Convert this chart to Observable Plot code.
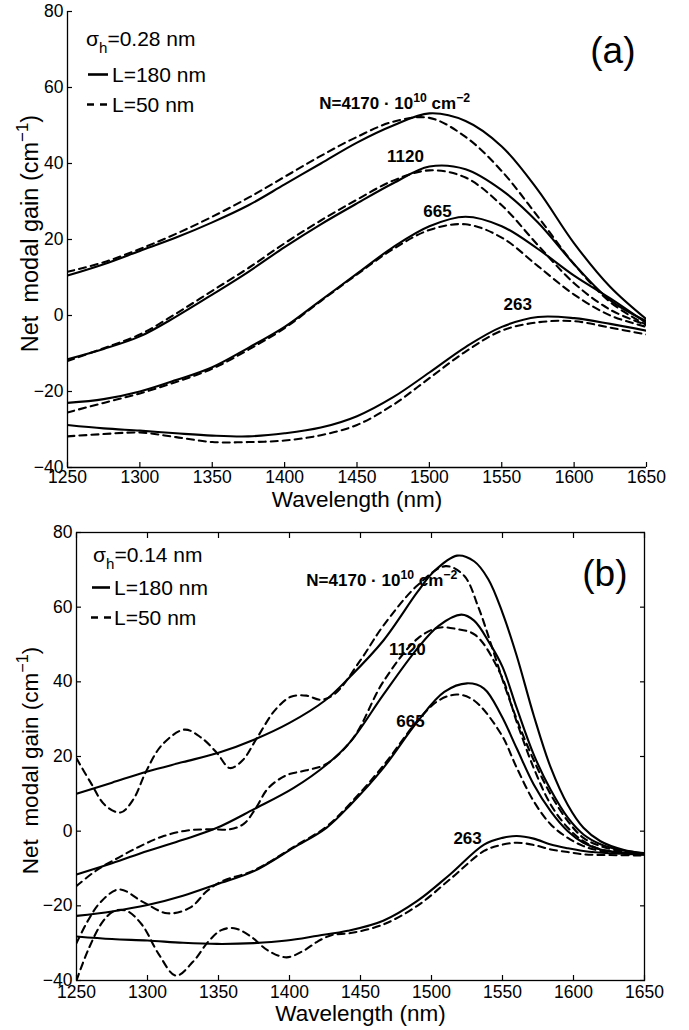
<!DOCTYPE html>
<html><head><meta charset="utf-8">
<script src="https://cdn.jsdelivr.net/npm/d3@7"></script>
<script src="https://cdn.jsdelivr.net/npm/@observablehq/plot@0.6"></script>
<style>
html,body{margin:0;padding:0;background:#fff}
#chart svg{display:block}
</style>
</head><body><div id="chart"></div>
<script>
const FONT = "'Liberation Sans', Arial, Helvetica, sans-serif";
const X_TICKS = [1250,1300,1350,1400,1450,1500,1550,1600,1650];
const Y_TICKS = [-40,-20,0,20,40,60,80];

// ---- Panel (a): sigma_h = 0.28 nm ----
const WL_A = [1250,1275,1300,1325,1350,1375,1400,1425,1450,1475,1500,1525,1550,1575,1600,1625,1650];
const A_4170_S = [10.5,13.5,17,20.5,24.5,29,34.5,40,45.5,50,53.2,51.2,44.5,33,19,7.5,-1];
const A_4170_D = [11.5,14,17.5,21.5,26,31,36.5,42,47,51,52,47,38,26,13.5,3.5,-2.5];
const A_1120_S = [-11.5,-8.8,-5.5,-0.3,5.5,11.5,18,24,29.5,34.8,39.2,38.5,33,24.5,13.5,4,-1.5];
const A_1120_D = [-12,-8.6,-5,0.5,6.5,12.5,19,25,30.5,35.5,38.2,36.3,29,18.5,8.5,1.5,-2.5];
const A_665_S = [-23,-22,-20,-17,-13.6,-8.5,-3,4,11,18,23.5,26,23.5,17.5,10.5,4.5,-2];
const A_665_D = [-25.5,-23,-20.5,-17.5,-14,-9,-3.3,3.8,10.8,17.5,22.5,24,20.5,13,5.5,0,-3];
const A_263_S = [-28.8,-29.7,-30.3,-31,-31.6,-31.8,-31,-29.5,-26.5,-21.5,-15,-8.3,-3,-0.4,-0.7,-2.2,-4];
const A_263_D = [-31.8,-31.2,-30.8,-32,-33.3,-33.3,-32.9,-31.5,-28.8,-23.5,-16.5,-9.5,-4,-1.8,-1.5,-3.2,-5];

// ---- Panel (b): sigma_h = 0.14 nm ----
const B_4170_S_WL = [1250,1275,1300,1325,1350,1375,1400,1425,1443,1466,1490,1501,1518,1530,1540,1550,1560,1572,1584,1596,1607,1619,1635,1650];
const B_4170_S = [10,13,16,18.5,21,24.5,29,35,41.5,51,64,69.3,73.8,72.3,67.5,58.5,47,31,17,7,0.9,-2.7,-5,-6];
const B_4170_D_WL = [1250,1260,1270,1281,1290,1299,1310,1326,1338,1349,1358,1367,1377,1390,1401,1412,1422,1432,1450,1466,1490,1510,1523,1533,1542,1551,1560,1572,1584,1596,1607,1619,1635,1650];
const B_4170_D = [19.5,13,7,5,8.5,16,23,27.2,25,20.9,16.9,19,24.9,32.5,36,36.3,35.2,36.8,45.8,55,65.8,71,68.4,60,50,39.5,30,19,9.8,2.7,-1.8,-4,-5.5,-6.2];
const B_1120_S_WL = [1250,1275,1300,1325,1349,1375,1403,1426,1443,1466,1490,1505,1521,1530,1541,1550,1560,1572,1584,1596,1607,1619,1635,1650];
const B_1120_S = [-11.6,-8.6,-5.3,-2.3,0.9,5.9,11.6,17.8,24,36.5,48.9,55,58,56.4,50.3,44,33,20.5,11,3.6,-0.9,-3.5,-5.2,-5.9];
const B_1120_D_WL = [1250,1264,1280,1295,1310,1328,1345,1358,1368,1376,1385,1398,1412,1426,1445,1466,1490,1505,1517,1531,1549,1560,1572,1584,1596,1607,1619,1635,1650];
const B_1120_D = [-14.7,-10.5,-7,-4,-1.5,0.2,0.5,0.5,2,6,11.5,15,16.3,18,25,40,51.5,54.5,54.2,52.5,41.8,29.3,16.9,7.1,0.9,-2.7,-4.9,-5.8,-6.2];
const B_665_S_WL = [1250,1275,1300,1325,1349,1375,1403,1426,1443,1466,1490,1509,1525,1537,1549,1560,1572,1584,1596,1607,1619,1635,1650];
const B_665_S = [-22.7,-21.5,-19.8,-17.3,-14.2,-10.7,-4.4,0.9,7.1,16.9,29.3,37.3,39.6,38.2,31.1,22.2,12.5,5.3,0,-3.1,-4.9,-5.8,-6.2];
const B_665_D_WL = [1250,1258,1267,1280,1297,1314,1330,1342,1352,1375,1403,1426,1443,1466,1490,1505,1518,1530,1549,1560,1572,1584,1596,1607,1619,1635,1650];
const B_665_D = [-30,-24,-19,-15.6,-19,-22,-20.5,-16,-13.5,-10.5,-4.2,1.2,7.5,17.5,29.5,35,36.6,35,26,17,8,1.8,-1.8,-4,-5.3,-6,-6.3];
const B_263_S_WL = [1250,1275,1300,1325,1349,1375,1398,1420,1441,1466,1490,1513,1537,1550,1560,1572,1584,1596,1607,1625,1650];
const B_263_S = [-28.2,-28.9,-29.3,-29.9,-30.2,-30,-29.3,-28,-26.7,-24,-18.7,-11.6,-3.6,-1.8,-1.3,-2,-3.6,-4.6,-5.3,-5.9,-6.2];
const B_263_D_WL = [1250,1258,1268,1276,1285,1296,1308,1320,1332,1343,1352,1361,1372,1385,1398,1410,1420,1430,1443,1466,1490,1513,1537,1548,1560,1572,1584,1596,1607,1625,1650];
const B_263_D = [-40,-32,-24.5,-21.5,-21.3,-25,-33,-38.7,-35,-29.5,-26.5,-26,-28,-32,-33.8,-32,-29.5,-27.8,-27.3,-25,-20,-12.9,-5.3,-3.8,-3.1,-3.7,-4.9,-5.6,-6.2,-6.4,-6.5];

// curve labels (carrier density) and their anchor points in data space
const LABELS = ["N=4170 · 10^{10} cm^{−2}", "1120", "665", "263"];
const LABEL_A_WL = [1476, 1483.5, 1505.6, 1561];
const LABEL_A_G = [55.8, 41.8, 27.4, 2.9];
const LABEL_B_WL = [1465, 1483, 1485.2, 1525.4];
const LABEL_B_G = [67.1, 48.7, 29.4, -2];

function rows(name, wl, g, dashed) {
  return wl.map((w, i) => ({wl: w, g: g[i], s: name, dashed}));
}

const fmtY = d => d < 0 ? "\u2212" + (-d) : String(d);

function richify(svg) {
  d3.select(svg).selectAll("text").each(function() {
    const t = this.textContent;
    if (!/[\^_]\{/.test(t)) return;
    const fs = parseFloat(getComputedStyle(this).fontSize) || 16;
    const parts = []; let last = 0; const re = /([\^_])\{([^}]*)\}/g; let m;
    while ((m = re.exec(t))) {
      if (m.index > last) parts.push({s: t.slice(last, m.index), k: 0});
      parts.push({s: m[2], k: m[1] === "^" ? 1 : -1});
      last = re.lastIndex;
    }
    if (last < t.length) parts.push({s: t.slice(last), k: 0});
    this.textContent = "";
    let cur = 0;
    for (const p of parts) {
      const ts = d3.select(this).append("tspan").text(p.s);
      const target = p.k === 1 ? -0.42 * fs : p.k === -1 ? 0.32 * fs : 0;
      if (target !== cur) ts.attr("dy", target - cur);
      cur = target;
      if (p.k) ts.attr("font-size", 0.72 * fs);
    }
  });
}

function panel(cfg) {
  const solid = cfg.series.filter(s => !s.dashed).flatMap(s => rows(s.name, s.wl, s.g, false));
  const dashed = cfg.series.filter(s => s.dashed).flatMap(s => rows(s.name, s.wl, s.g, true));
  const labels = LABELS.map((t, i) => ({t, wl: cfg.lwl[i], g: cfg.lg[i]}));
  const marks = [];
  if (cfg.box) {
    marks.push(Plot.frame({stroke: "#000", strokeWidth: 1.3}));
    marks.push(Plot.axisX({anchor: "top", ticks: X_TICKS, tickSize: -5, tickFormat: () => "", label: null, strokeWidth: 1.2}));
    marks.push(Plot.axisY({anchor: "right", ticks: Y_TICKS, tickSize: -5, tickFormat: () => "", label: null, strokeWidth: 1.2}));
  } else {
    marks.push(Plot.ruleX([X_TICKS[0]], {stroke: "#000", strokeWidth: 1.3}));
    marks.push(Plot.ruleY([Y_TICKS[0]], {stroke: "#000", strokeWidth: 1.3}));
  }
  marks.push(
    Plot.axisX({ticks: X_TICKS, tickSize: -5, tickPadding: cfg.xPad, tickFormat: d => String(d), label: null, fontSize: 17.5, strokeWidth: 1.2}),
    Plot.axisY({ticks: Y_TICKS, tickSize: -5, tickPadding: 9, tickFormat: fmtY, label: null, fontSize: 17.5, strokeWidth: 1.2}),
    Plot.line(solid, {x: "wl", y: "g", z: "s", curve: "catmull-rom", stroke: "#000", strokeWidth: 2.1, clip: true}),
    Plot.line(dashed, {x: "wl", y: "g", z: "s", curve: "catmull-rom", stroke: "#000", strokeWidth: 2.1, strokeDasharray: "7,5", clip: true}),
    Plot.text(labels, {x: "wl", y: "g", text: "t", fontWeight: "bold", fontSize: 17, fill: "#000"}),
    Plot.text([cfg.tag], {frameAnchor: "top-right", dx: cfg.tagDx, dy: cfg.tagDy, fontSize: 37, textAnchor: "end", lineAnchor: "middle"}),
    Plot.text(["Wavelength (nm)"], {frameAnchor: "bottom", dy: cfg.xlDy, fontSize: 22.5, textAnchor: "middle", lineAnchor: "middle"}),
    Plot.text(["Net  modal gain (cm^{−1})"], {frameAnchor: "left", dx: cfg.ylDx, dy: cfg.ylDy, rotate: -90, fontSize: cfg.ylFs, textAnchor: "middle", lineAnchor: "middle"})
  );
  const svg = Plot.plot({
    width: 689, height: cfg.height,
    marginLeft: cfg.ml, marginRight: cfg.mr, marginTop: cfg.mt, marginBottom: cfg.mb,
    style: {fontFamily: FONT, color: "#000", background: "#fff", overflow: "visible"},
    x: {domain: [1250, 1650]},
    y: {domain: [-40, 80]},
    marks
  });
  // in-plot legend
  const g = d3.select(svg).append("g").attr("font-family", FONT).attr("font-size", 21)
    .attr("fill", "#000").attr("text-anchor", "start");
  const L = cfg.leg;
  g.append("text").attr("x", L.x).attr("y", L.y0).text(`σ_{h}=${cfg.sigma} nm`);
  g.append("line").attr("x1", L.lx0).attr("x2", L.lx1).attr("y1", L.y1 - 7.5).attr("y2", L.y1 - 7.5).attr("stroke", "#000").attr("stroke-width", 2.6);
  g.append("text").attr("x", L.tx).attr("y", L.y1).text("L=180 nm");
  g.append("line").attr("x1", L.lx0 - 1).attr("x2", L.lx1 + 1).attr("y1", L.y2 - 7.5).attr("y2", L.y2 - 7.5).attr("stroke", "#000").attr("stroke-width", 2.6).attr("stroke-dasharray", "7,6");
  g.append("text").attr("x", L.tx).attr("y", L.y2).text("L=50 nm");
  return svg;
}

const svgA = panel({
  height: 515, ml: 67, mr: 43, mt: 11, mb: 48, box: false, xPad: 8,
  tag: "(a)", tagDx: -11, tagDy: 40, xlDy: 32, ylDx: -37, ylDy: -6, ylFs: 23.5,
  sigma: "0.28", lwl: LABEL_A_WL, lg: LABEL_A_G,
  leg: {x: 86, y0: 46, y1: 82, y2: 112, lx0: 88, lx1: 108, tx: 112},
  series: [
    {name: "4170s", wl: WL_A, g: A_4170_S}, {name: "4170d", wl: WL_A, g: A_4170_D, dashed: true},
    {name: "1120s", wl: WL_A, g: A_1120_S}, {name: "1120d", wl: WL_A, g: A_1120_D, dashed: true},
    {name: "665s", wl: WL_A, g: A_665_S}, {name: "665d", wl: WL_A, g: A_665_D, dashed: true},
    {name: "263s", wl: WL_A, g: A_263_S}, {name: "263d", wl: WL_A, g: A_263_D, dashed: true}
  ]
});
const svgB = panel({
  height: 515, ml: 76, mr: 45, mt: 17, mb: 50, box: true, xPad: 10,
  tag: "(b)", tagDx: -17, tagDy: 42, xlDy: 33, ylDx: -46, ylDy: 4, ylFs: 22.5,
  sigma: "0.14", lwl: LABEL_B_WL, lg: LABEL_B_G,
  leg: {x: 93, y0: 47, y1: 80, y2: 110, lx0: 92, lx1: 110, tx: 114},
  series: [
    {name: "4170s", wl: B_4170_S_WL, g: B_4170_S}, {name: "4170d", wl: B_4170_D_WL, g: B_4170_D, dashed: true},
    {name: "1120s", wl: B_1120_S_WL, g: B_1120_S}, {name: "1120d", wl: B_1120_D_WL, g: B_1120_D, dashed: true},
    {name: "665s", wl: B_665_S_WL, g: B_665_S}, {name: "665d", wl: B_665_D_WL, g: B_665_D, dashed: true},
    {name: "263s", wl: B_263_S_WL, g: B_263_S}, {name: "263d", wl: B_263_D_WL, g: B_263_D, dashed: true}
  ]
});
const root = document.getElementById("chart");
root.append(svgA, svgB);
richify(svgA); richify(svgB);
</script></body></html>
